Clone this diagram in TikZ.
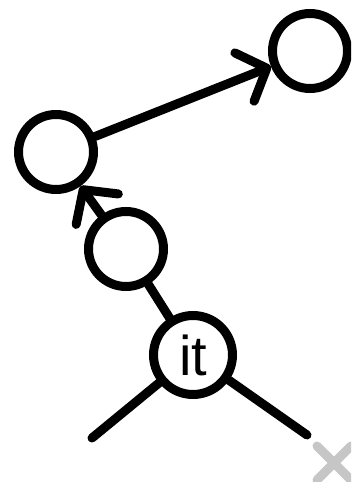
\documentclass[tikz,border=0pt]{standalone}
\usepackage{fontspec}
\setmainfont{Liberation Sans}
\usepackage{tikz}
\usetikzlibrary{arrows.meta}

\definecolor{crossgray}{RGB}{198,198,198}

\begin{document}
\begin{tikzpicture}[x=1pt, y=-1pt, line width=9pt, line cap=round,
    every node/.style={circle,draw,minimum size=75pt,inner sep=0pt},
    barb/.style={-{Straight Barb[length=24pt,width=52pt,round]}}]
    \clip (0,0) rectangle (351,482);
    % list nodes: current one and its neighbours
    \node (top)  at (310,51)  {};
    \node (prev) at (56,152)  {};
    \node (mid)  at (126,249) {};
    \node[minimum size=79pt] (it) at (193,355) {\fontsize{56}{56}\selectfont it};
    \coordinate (leftend)  at (92,438);
    \coordinate (rightend) at (307,435);

    \draw[barb] (mid) -- (prev);
    \draw[barb] (prev) -- (top);
    \draw (mid) -- (it);
    \draw (it) -- (leftend);
    \draw (it) -- (rightend);

    % removed link
    \draw[crossgray] (317,446) -- (351,480);
    \draw[crossgray] (351,446) -- (317,480);
\end{tikzpicture}
\end{document}
